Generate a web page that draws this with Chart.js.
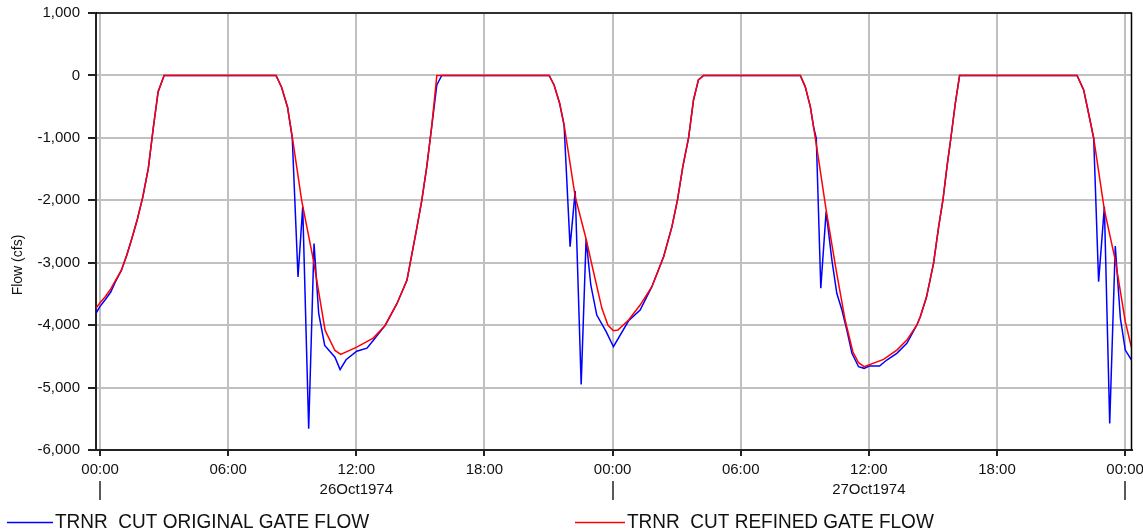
<!DOCTYPE html>
<html><head><meta charset="utf-8">
<script src="https://cdn.jsdelivr.net/npm/chart.js@4.4.1/dist/chart.umd.min.js"></script>
<style>html,body{margin:0;padding:0;background:#fff;overflow:hidden}#wrap{width:1143px;height:531px;position:relative}</style>
</head><body><div id="wrap"><canvas id="c" width="1143" height="531"></canvas></div>
<script>
// ---- data (hours since 26Oct1974 00:00, flow in cfs) ----
const blueHours = [
-0.19, 0, 0.25, 0.5, 0.7, 1.0, 1.25, 1.5, 1.75, 2.0, 2.26, 2.5, 2.72, 3.0,
8.24, 8.5, 8.78, 9.0, 9.27, 9.49, 9.77, 10.02, 10.24, 10.52, 11.0, 11.24, 11.52, 12.02, 12.5, 12.79, 13.35, 13.9, 14.37, 14.52, 14.83, 15.07, 15.3, 15.53, 15.77, 16.0,
21.03, 21.26, 21.52, 21.73, 22.01, 22.25, 22.53, 22.76, 22.98, 23.26, 23.7, 24.04, 24.75, 25.29, 25.84, 26.39, 26.78, 27.04, 27.29, 27.56, 27.79, 28.02, 28.26,
32.79, 33.02, 33.26, 33.41, 33.54, 33.75, 34.0, 34.27, 34.5, 34.74, 34.97, 35.21, 35.52, 35.78, 36.02, 36.5, 36.84, 37.31, 37.78, 38.25, 38.41, 38.7, 39.03, 39.27, 39.47, 39.66, 39.84, 40.05, 40.25,
45.75, 46.06, 46.29, 46.53, 46.76, 47.03, 47.28, 47.54, 47.78, 48.01, 48.3
];
const blueFlow = [
-3810, -3700, -3590, -3470, -3320, -3120, -2880, -2600, -2300, -1950, -1490, -820, -260, 0,
0, -190, -510, -1000, -3230, -2105, -5660, -2694, -3817, -4326, -4513, -4711, -4555, -4417, -4369, -4246, -4005, -3657, -3282, -3010, -2450, -1995, -1461, -820, -152, 0,
0, -152, -446, -800, -2743, -1850, -4949, -2620, -3357, -3838, -4105, -4346, -3930, -3758, -3384, -2904, -2423, -1995, -1461, -997, -393, -72, 0,
0, -179, -500, -820, -1006, -3410, -2182, -2957, -3490, -3758, -4079, -4452, -4666, -4692, -4655, -4655, -4559, -4452, -4292, -3998, -3865, -3550, -3010, -2423, -1995, -1461, -1006, -446, 0,
0, -232, -606, -1006, -3304, -2102, -5574, -2732, -3891, -4399, -4560
];
const redHours = [
-0.19, 0, 0.25, 0.5, 0.7, 1.0, 1.25, 1.5, 1.75, 2.0, 2.26, 2.5, 2.72, 3.0,
8.24, 8.5, 8.78, 9.0, 9.44, 9.99, 10.54, 11.0, 11.27, 12.02, 12.79, 13.35, 13.9, 14.37, 14.52, 14.83, 15.07, 15.3, 15.53, 15.77,
21.03, 21.26, 21.52, 21.73, 22.25, 22.76, 22.98, 23.5, 23.78, 24.04, 24.25, 24.75, 25.29, 25.84, 26.39, 26.78, 27.04, 27.29, 27.56, 27.79, 28.02, 28.26,
32.79, 33.02, 33.26, 33.41, 33.65, 34.0, 34.47, 34.89, 35.25, 35.52, 35.78, 36.69, 37.31, 37.78, 38.25, 38.41, 38.7, 39.03, 39.27, 39.47, 39.66, 39.84, 40.05, 40.25,
45.75, 46.06, 46.29, 46.53, 47.03, 47.54, 48.01, 48.3
];
const redFlow = [
-3730, -3640, -3540, -3420, -3300, -3120, -2880, -2600, -2300, -1950, -1490, -820, -260, 0,
0, -190, -510, -980, -2000, -2960, -4085, -4406, -4470, -4353, -4208, -4005, -3657, -3282, -3010, -2450, -1995, -1461, -820, 0,
0, -152, -446, -793, -1942, -2620, -2957, -3731, -3998, -4090, -4079, -3918, -3678, -3384, -2904, -2423, -1995, -1461, -997, -393, -72, 0,
0, -179, -500, -820, -1354, -2155, -3117, -3918, -4426, -4602, -4666, -4548, -4399, -4239, -3998, -3865, -3550, -3010, -2423, -1995, -1461, -1006, -446, 0,
0, -232, -606, -1006, -2155, -2957, -3945, -4360
];
const seriesNames = ["TRNR  CUT ORIGINAL GATE FLOW", "TRNR  CUT REFINED GATE FLOW"];
const xTickHours = [0, 6, 12, 18, 24, 30, 36, 42, 48];
const xTickLabels = ["00:00", "06:00", "12:00", "18:00", "00:00", "06:00", "12:00", "18:00", "00:00"];
const dayLabelHours = [12, 36];
const dayLabels = ["26Oct1974", "27Oct1974"];
const dayBoundaryHours = [0, 24, 48];
const yTickValues = [1000, 0, -1000, -2000, -3000, -4000, -5000, -6000];
const yTickLabels = ["1,000", "0", "-1,000", "-2,000", "-3,000", "-4,000", "-5,000", "-6,000"];
const yTitle = "Flow (cfs)";

const FONT = '"Liberation Sans", Arial, sans-serif';
const toPts = (hs, vs) => hs.map((h, i) => ({x: h, y: vs[i]}));

const decor = {
  id: 'decor',
  afterDraw(chart) {
    const {ctx, chartArea: a, scales: {x}} = chart;
    ctx.save();
    // frame top & right
    ctx.strokeStyle = '#000'; ctx.lineWidth = 1.5;
    ctx.beginPath(); ctx.moveTo(a.left, a.top); ctx.lineTo(a.right, a.top); ctx.lineTo(a.right, a.bottom); ctx.stroke();
    // day boundary ticks
    ctx.strokeStyle = '#222'; ctx.lineWidth = 1.5;
    dayBoundaryHours.forEach(h => {
      const px = Math.round(x.getPixelForValue(h));
      ctx.beginPath(); ctx.moveTo(px, 481); ctx.lineTo(px, 500); ctx.stroke();
    });
    // date labels
    ctx.fillStyle = '#111'; ctx.font = '15px ' + FONT; ctx.textAlign = 'center'; ctx.textBaseline = 'middle';
    dayLabels.forEach((t, i) => ctx.fillText(t, x.getPixelForValue(dayLabelHours[i]), 490));
    // y title
    ctx.save(); ctx.translate(18, 265); ctx.rotate(-Math.PI / 2);
    ctx.font = '14px ' + FONT; ctx.fillText(yTitle, 0, 0); ctx.restore();
    // legend
    const items = [{x0: 7, x1: 53, color: chart.data.datasets[1].borderColor, text: chart.data.datasets[1].label},
                   {x0: 575, x1: 625, color: chart.data.datasets[0].borderColor, text: chart.data.datasets[0].label}];
    items.forEach(it => {
      ctx.strokeStyle = it.color; ctx.lineWidth = 1.3;
      ctx.beginPath(); ctx.moveTo(it.x0, 522.5); ctx.lineTo(it.x1, 522.5); ctx.stroke();
      ctx.save(); ctx.translate(it.x1 + 2, 528); ctx.scale(0.95, 1);
      ctx.fillStyle = '#111'; ctx.font = '20px ' + FONT; ctx.textAlign = 'left'; ctx.textBaseline = 'alphabetic';
      ctx.fillText(it.text, 0, 0); ctx.restore();
    });
    ctx.restore();
  }
};

new Chart(document.getElementById('c'), {
  type: 'line',
  data: {
    datasets: [
      {label: seriesNames[1], data: toPts(redHours, redFlow), borderColor: '#ff0000', borderWidth: 1.5, pointRadius: 0, tension: 0, fill: false, order: 0},
      {label: seriesNames[0], data: toPts(blueHours, blueFlow), borderColor: '#0000ff', borderWidth: 1.5, pointRadius: 0, tension: 0, fill: false, order: 1}
    ]
  },
  options: {
    responsive: false, animation: false, devicePixelRatio: 1,
    layout: {padding: {top: 13, right: 11.5, left: 0, bottom: 0}},
    plugins: {legend: {display: false}, tooltip: {enabled: false}},
    scales: {
      x: {
        type: 'linear', min: -0.19, max: 48.3,
        afterBuildTicks: s => { s.ticks = xTickHours.map(v => ({value: v})); },
        afterFit: s => { s.height = 81; s.paddingLeft = 0; s.paddingRight = 0; },
        ticks: {callback: (v, i) => xTickLabels[i], color: '#111', font: {family: FONT, size: 15}, padding: 5, maxRotation: 0, autoSkip: false},
        grid: {color: '#c0c0c0', lineWidth: 2, tickColor: '#222', tickLength: 6, drawTicks: true},
        border: {color: '#222', width: 2}
      },
      y: {
        min: -6000, max: 1000,
        afterBuildTicks: s => { s.ticks = yTickValues.map(v => ({value: v})); },
        afterFit: s => { s.width = 96; s.paddingTop = 0; s.paddingBottom = 0; },
        ticks: {callback: (v, i) => yTickLabels[i], color: '#111', font: {family: FONT, size: 15}, padding: 8},
        grid: {color: '#c0c0c0', lineWidth: 2, tickColor: '#222', tickLength: 8, drawTicks: true},
        border: {color: '#222', width: 2}
      }
    }
  },
  plugins: [decor]
});
</script></body></html>
